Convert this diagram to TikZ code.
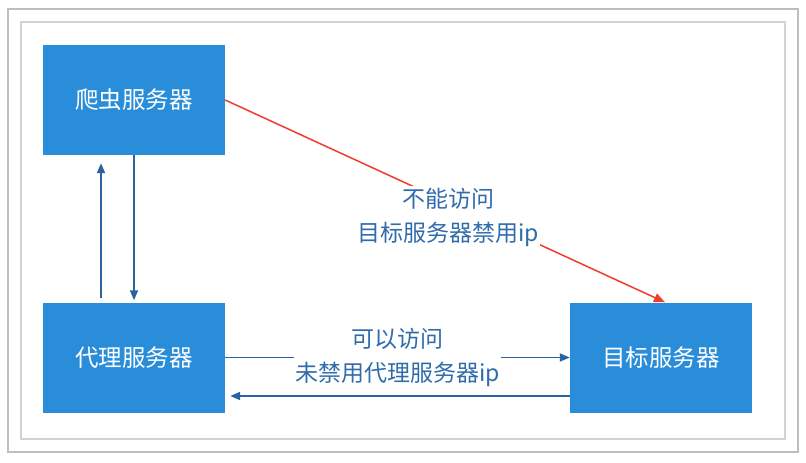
\documentclass[tikz,border=0pt]{standalone}
\usepackage{fontspec}
\setmainfont{Noto Sans CJK SC}
\usetikzlibrary{arrows.meta, positioning, calc}
\definecolor{boxBlue}{RGB}{41,141,218}
\definecolor{lineBlue}{RGB}{40,100,162}
\definecolor{textBlue}{RGB}{48,108,170}
\definecolor{lineRed}{RGB}{238,60,46}
\definecolor{frameGray}{RGB}{190,190,190}

\begin{document}
\begin{tikzpicture}[x=1pt, y=-1pt,
  server/.style={fill=boxBlue, text=white, minimum width=182pt, minimum height=110pt,
    inner sep=0pt, font=\fontsize{23.5}{28}\selectfont},
  flow/.style={line width=1.8pt, lineBlue, -{Triangle[length=10pt,width=8pt]}},
  forbid/.style={line width=1.5pt, lineRed, -{Triangle[length=11pt,width=9pt]}},
  note/.style={fill=white, text=textBlue, align=center, inner xsep=1pt, inner ysep=2pt,
    font=\fontsize{23}{34}\selectfont}]
  % page and frame
  \fill[white] (0,0) rectangle (806,463);
  \useasboundingbox (0,0) rectangle (806,463);
  \draw[frameGray, line width=1.6pt] (8,9) rectangle (798,452);
  \draw[frameGray!70, line width=1.2pt] (21,22) rectangle (785,439);

  % servers
  \node[server] (crawler) at (134,100) {爬虫服务器};
  \node[server] (proxy) at (134,357.5) {代理服务器};
  \node[server] (target) at (661,357.5) {目标服务器};

  % crawler <-> proxy
  \draw[flow] ([xshift=-33pt, yshift=4pt]proxy.north) -- ([xshift=-33pt, yshift=-8pt]crawler.south);
  \draw[flow] (crawler.south) -- ([yshift=2pt]proxy.north);

  % direct access is blocked
  \draw[forbid] (crawler.east) -- ([xshift=4pt]target.north)
    node[note, pos=0.5, xshift=3pt, yshift=-16pt] (blocked) {不能访问\\目标服务器禁用ip};

  % access through the proxy
  \draw[flow] (proxy.east) -- (target.west)
    node[note, midway] (allowed) {可以访问\\未禁用代理服务器ip};
  \draw[flow] ([yshift=-38.5pt]target.west) -- ([yshift=-38.5pt, xshift=5pt]proxy.east);
\end{tikzpicture}
\end{document}
